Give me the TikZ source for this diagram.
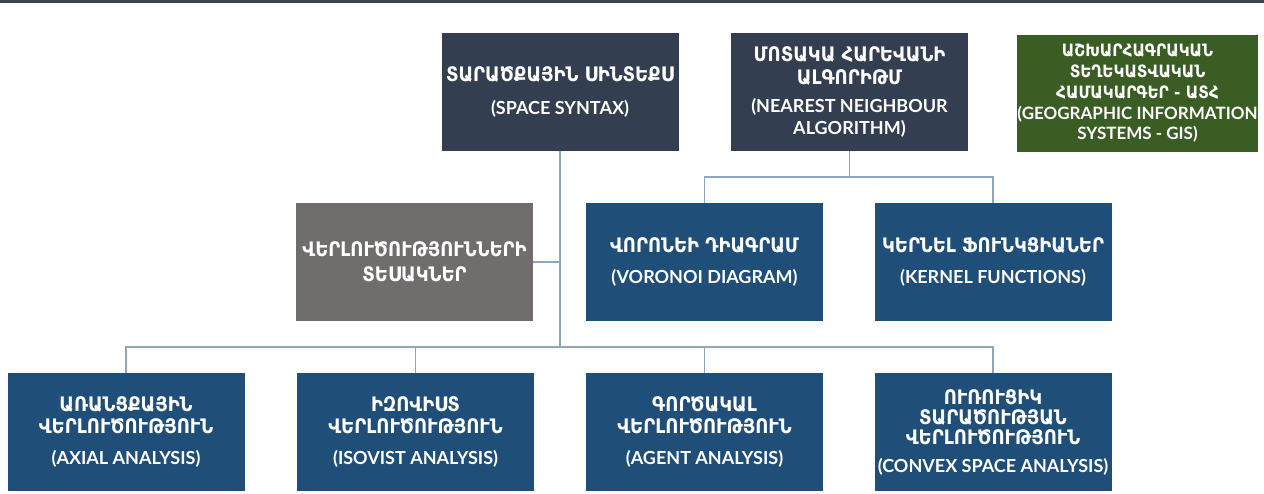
\documentclass[tikz,border=0pt]{standalone}
\usepackage{fontspec}
\setmainfont{Lato}
\newfontfamily\arm{DejaVu Sans Condensed}
\newfontfamily\lat{Lato}
\newcommand\am[1]{{\arm\bfseries\fontsize{20}{22}\selectfont #1}}
\newcommand\la[1]{{\lat\bfseries\fontsize{18}{22}\selectfont #1}}
\newcommand\ams[1]{{\arm\bfseries\fontsize{17}{20.5}\selectfont #1}}
\newcommand\las[1]{{\lat\bfseries\fontsize{17}{20.5}\selectfont #1}}
\definecolor{slate}{HTML}{333F50}
\definecolor{gisgreen}{HTML}{3A5D24}
\definecolor{typegray}{HTML}{716D6C}
\definecolor{navy}{HTML}{1F4E79}
\definecolor{wire}{HTML}{8EA6BE}
\definecolor{topline}{HTML}{3B4450}
\begin{document}
\begin{tikzpicture}[x=1pt,y=-1pt,
  box/.style={rectangle, minimum width=237pt, minimum height=118pt, inner sep=0pt,
    text=white, align=center, font=\fontsize{20}{22}\selectfont},
  darkbox/.style={box, fill=slate},
  bluebox/.style={box, fill=navy},
  graybox/.style={box, fill=typegray},
  greenbox/.style={box, fill=gisgreen, minimum width=239pt, minimum height=117pt,
    font=\fontsize{17}{20.5}\selectfont},
  link/.style={draw=wire, line width=1.4pt}]
\useasboundingbox (0,0) rectangle (1264,493);
\fill[white] (0,0) rectangle (1264,493);
\draw[topline, line width=3pt] (0,1.5) -- (1264,1.5);

\node[darkbox] (ss) at (560,92) {\am{ՏԱՐԱԾՔԱՅԻՆ ՍԻՆՏԵՔՍ}\\[11pt]\la{(SPACE SYNTAX)}};
\node[darkbox] (nn) at (849.5,92) {\am{ՄՈՏԱԿԱ ՀԱՐԵՎԱՆԻ}\\[1pt]\am{ԱԼԳՈՐԻԹՄ}\\[6pt]\la{(NEAREST NEIGHBOUR}\\\la{ALGORITHM)}};
\node[greenbox] (gis) at (1137.5,93.5) {\ams{ԱՇԽԱՐՀԱԳՐԱԿԱՆ}\\\ams{ՏԵՂԵԿԱՏՎԱԿԱՆ}\\[1pt]\ams{ՀԱՄԱԿԱՐԳԵՐ - ԱՏՀ}\\\las{(GEOGRAPHIC INFORMATION}\\\las{SYSTEMS - GIS)}};

\node[graybox] (types) at (414.5,262) {\am{ՎԵՐԼՈՒԾՈՒԹՅՈՒՆՆԵՐԻ}\\[3pt]\am{ՏԵՍԱԿՆԵՐ}};
\node[bluebox] (vor) at (704.5,262) {\am{ՎՈՐՈՆԵԻ ԴԻԱԳՐԱՄ}\\[9pt]\la{(VORONOI DIAGRAM)}};
\node[bluebox] (ker) at (993,262) {\am{ԿԵՐՆԵԼ ՖՈՒՆԿՑԻԱՆԵՐ}\\[9pt]\la{(KERNEL FUNCTIONS)}};

\node[bluebox] (axial) at (126,432) {\am{ԱՌԱՆՑՔԱՅԻՆ}\\\am{ՎԵՐԼՈՒԾՈՒԹՅՈՒՆ}\\[9pt]\la{(AXIAL ANALYSIS)}};
\node[bluebox] (iso) at (415.5,432) {\am{ԻԶՈՎԻՍՏ}\\\am{ՎԵՐԼՈՒԾՈՒԹՅՈՒՆ}\\[9pt]\la{(ISOVIST ANALYSIS)}};
\node[bluebox] (agent) at (704.5,432) {\am{ԳՈՐԾԱԿԱԼ}\\\am{ՎԵՐԼՈՒԾՈՒԹՅՈՒՆ}\\[9pt]\la{(AGENT ANALYSIS)}};
\node[bluebox] (convex) at (993,432) {\am{ՈՒՌՈՒՑԻԿ}\\[-2pt]\am{ՏԱՐԱԾՈՒԹՅԱՆ}\\[-2pt]\am{ՎԵՐԼՈՒԾՈՒԹՅՈՒՆ}\\[6pt]\la{(CONVEX SPACE ANALYSIS)}};

\coordinate (bus) at (560,347);
\coordinate (bus2) at (849.5,177);
\draw[link] (ss.south) -- (bus);
\draw[link] (axial.north) |- (bus);
\draw[link] (iso.north) |- (bus);
\draw[link] (agent.north) |- (bus);
\draw[link] (convex.north) |- (bus);
\draw[link] (types.east) -- (types.east -| bus);
\draw[link] (nn.south) -- (bus2);
\draw[link] (vor.north) |- (bus2);
\draw[link] (ker.north) |- (bus2);
\end{tikzpicture}
\end{document}
